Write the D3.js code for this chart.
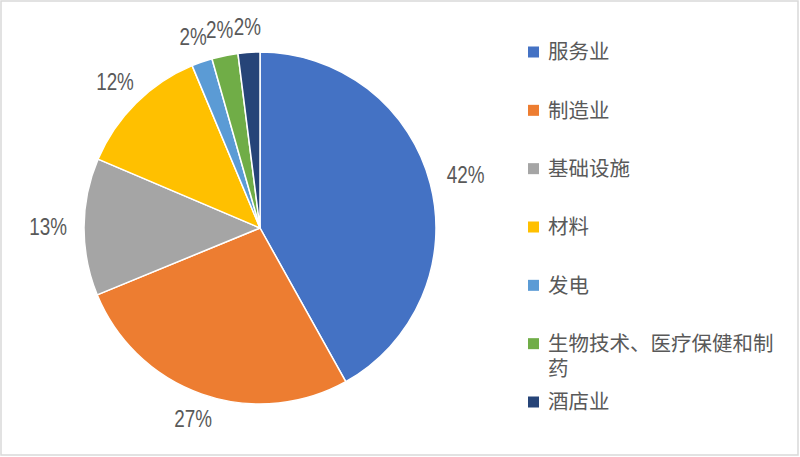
<!DOCTYPE html>
<html>
<head>
<meta charset="utf-8">
<script src="https://cdn.jsdelivr.net/npm/d3@7"></script>
<style>
  body { margin: 0; background: #fff; }
  svg { display: block; }
</style>
</head>
<body>
<svg id="chart" width="800" height="457"></svg>
<script>
// sectors and their share (percent)
var sectors = ["服务业", "制造业", "基础设施", "材料", "发电", "生物技术、医疗保健和制药", "酒店业"];
var shares = [41.9, 26.9, 12.6, 12.3, 1.9, 2.4, 2.0];
var colors = ["#4472C4", "#ED7D31", "#A5A5A5", "#FFC000", "#5B9BD5", "#70AD47", "#264478"];
// legend text, long entry wraps onto a second line
var legendLines = [["服务业"], ["制造业"], ["基础设施"], ["材料"], ["发电"], ["生物技术、医疗保健和制", "药"], ["酒店业"]];

var svg = d3.select("#chart");
var cx = 260, cy = 228, radius = 176;

svg.append("rect")
  .attr("x", 1).attr("y", 1)
  .attr("width", 797).attr("height", 454)
  .attr("fill", "#fff")
  .attr("stroke", "#d9d9d9")
  .attr("stroke-width", 1.5);

var total = d3.sum(shares);
var data = sectors.map(function(s, i) { return { name: s, value: shares[i], color: colors[i] }; });

var pie = d3.pie().sort(null).value(function(d) { return d.value; });
var arc = d3.arc().innerRadius(0).outerRadius(radius);
var arcs = pie(data);

var g = svg.append("g").attr("transform", "translate(" + cx + "," + cy + ")");

g.selectAll("path.slice")
  .data(arcs)
  .enter().append("path")
  .attr("class", "slice")
  .attr("d", arc)
  .attr("fill", function(d) { return d.data.color; })
  .attr("stroke", "#fff")
  .attr("stroke-width", 1.5)
  .attr("stroke-linejoin", "round");

// percent labels outside the slices (narrow look: squeeze a regular sans)
var gap = 17, halfH = 9, squeeze = 0.82;
g.selectAll("text.pct")
  .data(arcs)
  .enter().append("text")
  .attr("class", "pct")
  .attr("text-anchor", "middle")
  .attr("dy", "0.36em")
  .attr("font-family", "'Liberation Sans', Arial, sans-serif")
  .attr("font-size", 23)
  .attr("fill", "#595959")
  .text(function(d) { return Math.round(d.data.value * 100 / total) + "%"; })
  .each(function(d) {
    var halfW = this.getComputedTextLength() * squeeze / 2;
    var mid = (d.startAngle + d.endAngle) / 2;
    var ux = Math.sin(mid), uy = -Math.cos(mid);
    var ext = Math.min(Math.abs(ux) > 1e-6 ? halfW / Math.abs(ux) : 1e9,
                       Math.abs(uy) > 1e-6 ? halfH / Math.abs(uy) : 1e9);
    var dist = radius + gap + ext;
    d3.select(this)
      .attr("transform", "translate(" + (ux * dist) + "," + (uy * dist) + ") scale(" + squeeze + ",1)");
  });

// legend
var legendY = d3.scalePoint().domain(sectors).range([52, 402]);
var legend = svg.append("g");
var items = legend.selectAll("g.item")
  .data(data)
  .enter().append("g")
  .attr("class", "item")
  .attr("transform", function(d) { return "translate(528," + legendY(d.name) + ")"; });

items.append("rect")
  .attr("x", 0).attr("y", -5.5)
  .attr("width", 11).attr("height", 11)
  .attr("fill", function(d) { return d.color; });

items.append("text")
  .attr("font-family", "'Noto Sans CJK SC', sans-serif")
  .attr("font-size", 20.5)
  .attr("fill", "#595959")
  .each(function(d, i) {
    var t = d3.select(this);
    legendLines[i].forEach(function(line, k) {
      t.append("tspan")
        .attr("x", 20)
        .attr("y", k * 25)
        .attr("dy", "0.36em")
        .text(line);
    });
  });
</script>
</body>
</html>
